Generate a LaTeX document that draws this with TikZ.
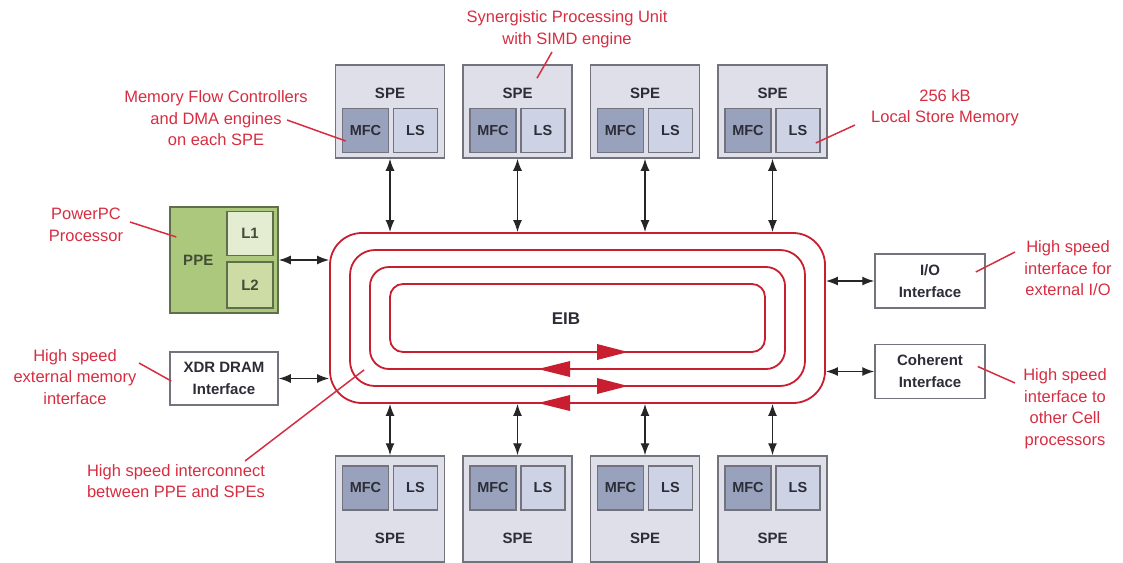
\documentclass[tikz,border=0pt]{standalone}
\usepackage{fontspec}
\setmainfont{Liberation Sans}
\usetikzlibrary{arrows.meta,positioning}

\definecolor{eibred}{RGB}{200,30,48}
\definecolor{notered}{RGB}{215,45,65}
\definecolor{boxgray}{RGB}{115,115,125}
\definecolor{spefill}{RGB}{222,223,232}
\definecolor{mfcfill}{RGB}{152,162,188}
\definecolor{lsfill}{RGB}{205,210,228}
\definecolor{ppefill}{RGB}{172,200,125}
\definecolor{lonefill}{RGB}{228,237,210}
\definecolor{ltwofill}{RGB}{205,219,165}
\definecolor{ppeline}{RGB}{95,110,75}
\definecolor{labeltext}{RGB}{45,45,55}

\begin{document}
\begin{tikzpicture}[x=1pt, y=-1pt,
    node distance=17pt and 17pt,
    box/.style={draw=boxgray, line width=1.5pt, inner sep=0pt, text=labeltext, align=center, font=\fontsize{15}{22}\selectfont\bfseries},
    lbltext/.style={text=labeltext, inner sep=0pt, font=\fontsize{15}{22}\selectfont\bfseries},
    spetop/.style={box, fill=spefill, minimum width=109pt, minimum height=93pt, label={[lbltext, anchor=center, yshift=-29pt]north:SPE}},
    spebot/.style={box, fill=spefill, minimum width=109pt, minimum height=106pt, label={[lbltext, anchor=center, yshift=24pt]south:SPE}},
    mfc/.style={box, fill=mfcfill, minimum width=46pt, minimum height=44pt, font=\fontsize{14.5}{22}\selectfont\bfseries},
    ls/.style={box, fill=lsfill, minimum width=44pt, minimum height=44pt, font=\fontsize{14.5}{22}\selectfont\bfseries},
    ppebox/.style={box, draw=ppeline, fill=ppefill},
    iface/.style={box, fill=white, minimum width=110pt, minimum height=54pt},
    ring/.style={draw=eibred, line width=1.8pt, inner sep=0pt},
    biarrow/.style={{Latex[length=12pt,width=9pt]}-{Latex[length=12pt,width=9pt]}, line width=1.4pt, draw=black!85},
    note/.style={text=notered, inner sep=0pt, align=center, font=\fontsize{16.5}{21.5}\selectfont},
    leader/.style={draw=notered, line width=1.5pt}
]
\useasboundingbox (0,0) rectangle (1123,562);

% SPEs above the bus
\node[spetop] (spet1) at (390,111.5) {};
\node[spetop, right=of spet1] (spet2) {};
\node[spetop, right=of spet2] (spet3) {};
\node[spetop, right=of spet3] (spet4) {};
\node[mfc] (mfct1) at ([xshift=-24.5pt, yshift=-19pt]spet1.center) {MFC};
\node[ls]  (lst1)  at ([xshift=25.5pt, yshift=-19pt]spet1.center) {LS};
\node[mfc] (mfct2) at ([xshift=-24.5pt, yshift=-19pt]spet2.center) {MFC};
\node[ls]  (lst2)  at ([xshift=25.5pt, yshift=-19pt]spet2.center) {LS};
\node[mfc] (mfct3) at ([xshift=-24.5pt, yshift=-19pt]spet3.center) {MFC};
\node[ls]  (lst3)  at ([xshift=25.5pt, yshift=-19pt]spet3.center) {LS};
\node[mfc] (mfct4) at ([xshift=-24.5pt, yshift=-19pt]spet4.center) {MFC};
\node[ls]  (lst4)  at ([xshift=25.5pt, yshift=-19pt]spet4.center) {LS};

% SPEs below the bus
\node[spebot] (speb1) at (390,509) {};
\node[spebot, right=of speb1] (speb2) {};
\node[spebot, right=of speb2] (speb3) {};
\node[spebot, right=of speb3] (speb4) {};
\node[mfc] (mfcb1) at ([xshift=-24.5pt, yshift=21pt]speb1.center) {MFC};
\node[ls]  (lsb1)  at ([xshift=25.5pt, yshift=21pt]speb1.center) {LS};
\node[mfc] (mfcb2) at ([xshift=-24.5pt, yshift=21pt]speb2.center) {MFC};
\node[ls]  (lsb2)  at ([xshift=25.5pt, yshift=21pt]speb2.center) {LS};
\node[mfc] (mfcb3) at ([xshift=-24.5pt, yshift=21pt]speb3.center) {MFC};
\node[ls]  (lsb3)  at ([xshift=25.5pt, yshift=21pt]speb3.center) {LS};
\node[mfc] (mfcb4) at ([xshift=-24.5pt, yshift=21pt]speb4.center) {MFC};
\node[ls]  (lsb4)  at ([xshift=25.5pt, yshift=21pt]speb4.center) {LS};

% EIB rings
\node[ring, minimum width=495pt, minimum height=170pt, rounded corners=32pt] (eib) at (577.5,318) {};
\node[ring, minimum width=455pt, minimum height=136pt, rounded corners=25pt] (ring2) at (577.5,318) {};
\node[ring, minimum width=415pt, minimum height=102pt, rounded corners=19pt] (ring3) at (577.5,318) {};
\node[ring, minimum width=375pt, minimum height=68pt, rounded corners=13pt] (ring4) at (577.5,318) {};
\node[lbltext, font=\fontsize{17}{22}\selectfont\bfseries] (eibtext) at (566,319) {EIB};
\fill[eibred] (597,344) -- (628,352) -- (597,360) -- cycle;
\fill[eibred] (597,378) -- (628,386) -- (597,394) -- cycle;
\fill[eibred] (570,361) -- (538,369) -- (570,377) -- cycle;
\fill[eibred] (570,395) -- (538,403) -- (570,411) -- cycle;

% PPE and interfaces
\node[ppebox, minimum width=108pt, minimum height=106pt, label={[lbltext, text=ppeline!70!black, anchor=center, xshift=29pt]west:PPE}] (ppe) at (224,260) {};
\node[ppebox, fill=lonefill, minimum width=46pt, minimum height=44pt, text=ppeline!70!black] (lone) at (250,233.5) {L1};
\node[ppebox, fill=ltwofill, minimum width=46pt, minimum height=46pt, text=ppeline!70!black] (ltwo) at (250,285) {L2};
\node[iface, minimum width=108pt, minimum height=53pt] (xdr) at (224,378.5) {XDR DRAM\\Interface};
\node[iface] (io) at (930,281) {I/O\\Interface};
\node[iface, below=35pt of io] (coh) {Coherent\\Interface};

% links to the bus
\draw[biarrow] (spet1) -- (spet1 |- eib.north);
\draw[biarrow] (spet2) -- (spet2 |- eib.north);
\draw[biarrow] (spet3) -- (spet3 |- eib.north);
\draw[biarrow] (spet4) -- (spet4 |- eib.north);
\draw[biarrow] (speb1) -- (speb1 |- eib.south);
\draw[biarrow] (speb2) -- (speb2 |- eib.south);
\draw[biarrow] (speb3) -- (speb3 |- eib.south);
\draw[biarrow] (speb4) -- (speb4 |- eib.south);
\draw[biarrow] (ppe) -- (ppe -| eib.west);
\draw[biarrow] (xdr) -- (xdr -| eib.west);
\draw[biarrow] (io) -- (io -| eib.east);
\draw[biarrow] (coh) -- (coh -| eib.east);

% notes
\node[note] (notesyn) at (567,29) {Synergistic Processing Unit\\with SIMD engine};
\node[note] (notemfc) at (216,118.5) {Memory Flow Controllers\\and DMA engines\\on each SPE};
\node[note] (notels) at (945,107.5) {256 kB\\Local Store Memory};
\node[note] (noteppe) at (86,225) {PowerPC\\Processor};
\node[note] (notexdr) at (75,377) {High speed\\external memory\\interface};
\node[note] (notelink) at (176,481) {High speed interconnect\\between PPE and SPEs};
\node[note] (noteio) at (1068,268.5) {High speed\\interface for\\external I/O};
\node[note] (notecoh) at (1065,408.5) {High speed\\interface to\\other Cell\\processors};

\coordinate (synpin) at (552,52);
\coordinate (mfcpin) at (287,120);
\coordinate (lspin) at (855,125);
\coordinate (ppepin) at (130,222);
\coordinate (xdrpin) at (139,363);
\coordinate (linkpin) at (245,461);
\coordinate (iopin) at (1015,252);
\coordinate (cohpin) at (1015,383);

\draw[leader] (synpin) -- ([xshift=19.5pt, yshift=-14pt]spet2.north);
\draw[leader] (mfcpin) -- ([xshift=4pt, yshift=-10.5pt]mfct1.west);
\draw[leader] (lspin) -- ([xshift=-5pt, yshift=-12.5pt]lst4.east);
\draw[leader] (ppepin) -- ([xshift=7pt, yshift=23pt]ppe.west);
\draw[leader] (xdrpin) -- ([xshift=2pt, yshift=-2.5pt]xdr.west);
\draw[leader] (linkpin) -- ([xshift=35pt, yshift=34pt]eib.south west);
\draw[leader] (iopin) -- ([xshift=-10pt, yshift=9pt]io.east);
\draw[leader] (cohpin) -- ([xshift=-8pt, yshift=5pt]coh.east);
\end{tikzpicture}
\end{document}
